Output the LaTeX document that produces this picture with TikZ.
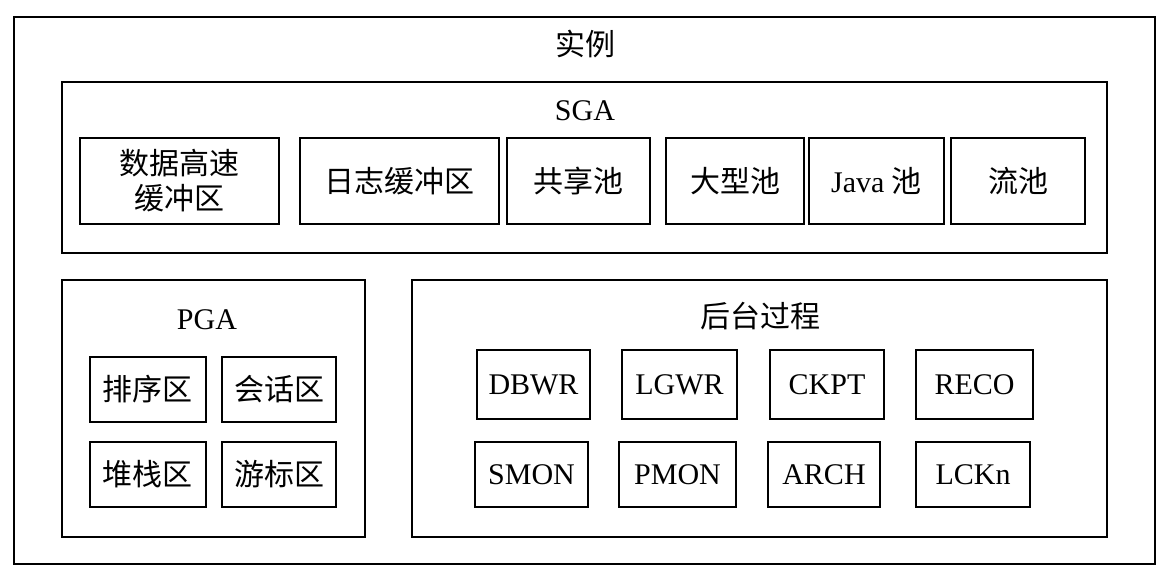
\documentclass[tikz,border=0pt]{standalone}
\usepackage{fontspec}
\setmainfont{Liberation Serif}
\newfontfamily\cjk{Noto Sans CJK SC}

\begin{document}
\begin{tikzpicture}[x=0.5pt,y=-0.5pt,font=\fontsize{15}{17.5}\selectfont,
	every node/.style={inner sep=0pt},
	Box/.style={draw,line width=1pt,align=center},
	Area/.style={Box,minimum width=#1},
	Proc/.style={Box,minimum width=#1,minimum height=33pt}]
	\useasboundingbox (0,0) rectangle (1169,580);
	% instance
	\node[Box,minimum width=570.5pt,minimum height=273.5pt] (Inst) at (584.5,290.5) {};
	\node (InstLabel) at (585,44) {\cjk 实例};
	% SGA
	\node[Box,minimum width=522.5pt,minimum height=85.5pt] (SGA) at (584.5,167.5) {};
	\node (SGALabel) at (585,111) {SGA};
	\tikzset{Box/.append style={minimum height=43pt}}
	\node[Area=99.5pt] (DBC) at (179.5,181) {\cjk 数据高速\\\cjk 缓冲区};
	\node[Area=99.5pt] (LogBuf) at (399.5,181) {\cjk 日志缓冲区};
	\node[Area=71.5pt] (Shared) at (578.5,181) {\cjk 共享池};
	\node[Area=69pt] (Large) at (735,181) {\cjk 大型池};
	\node[Area=67.5pt] (Java) at (876.5,181) {Java {\cjk 池}};
	\node[Area=67pt] (Stream) at (1018,181) {\cjk 流池};
	% PGA
	\node[Box,minimum width=151.5pt,minimum height=128.5pt] (PGA) at (213.5,408.5) {};
	\node (PGALabel) at (207,320) {PGA};
	\tikzset{Box/.append style={minimum height=32.5pt}}
	\node[Area=58pt] (Sort) at (147.5,389.5) {\cjk 排序区};
	\node[Area=57pt] (Session) at (279,389.5) {\cjk 会话区};
	\node[Area=58pt] (Stack) at (147.5,474.5) {\cjk 堆栈区};
	\node[Area=57pt] (Cursor) at (279,474.5) {\cjk 游标区};
	% background processes
	\node[Box,minimum width=347.5pt,minimum height=128.5pt] (BG) at (759.5,408.5) {};
	\node (BGLabel) at (760,316) {\cjk 后台过程};
	\node[Proc=56.5pt,minimum height=34.5pt] (DBWR) at (533.5,384.5) {DBWR};
	\node[Proc=57.5pt,minimum height=34.5pt] (LGWR) at (679.5,384.5) {LGWR};
	\node[Proc=57pt,minimum height=34.5pt] (CKPT) at (827,384.5) {CKPT};
	\node[Proc=58.5pt,minimum height=34.5pt] (RECO) at (974.5,384.5) {RECO};
	\node[Proc=56.5pt,minimum height=32.5pt] (SMON) at (531.5,474.5) {SMON};
	\node[Proc=58.5pt,minimum height=32.5pt] (PMON) at (677.5,474.5) {PMON};
	\node[Proc=56pt,minimum height=32.5pt] (ARCH) at (824,474.5) {ARCH};
	\node[Proc=57pt,minimum height=32.5pt] (LCKn) at (973,474.5) {LCKn};
\end{tikzpicture}
\end{document}
